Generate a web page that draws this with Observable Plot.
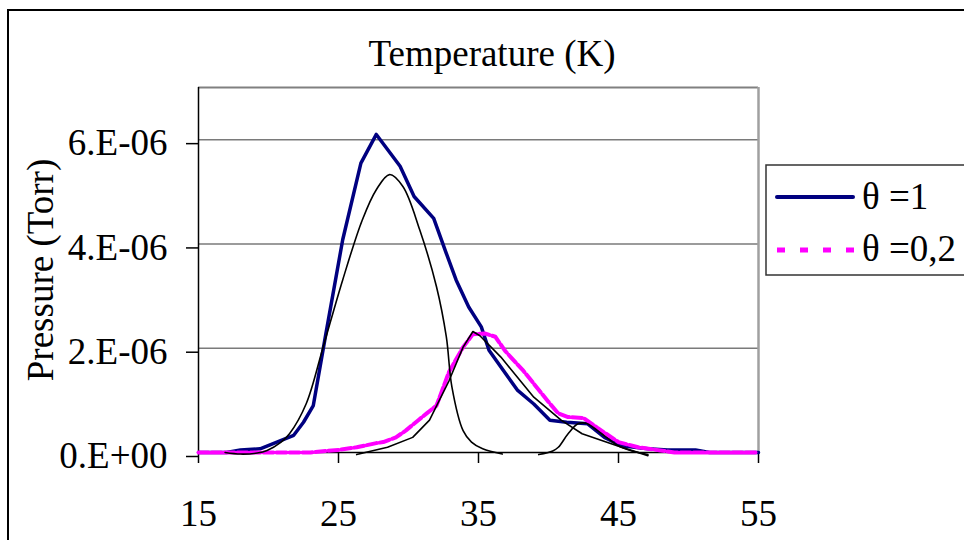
<!DOCTYPE html>
<html>
<head>
<meta charset="utf-8">
<script src="https://cdn.jsdelivr.net/npm/d3@7"></script>
<script src="https://cdn.jsdelivr.net/npm/@observablehq/plot@0.6"></script>
<style>
  html, body { margin: 0; padding: 0; background: #fff; overflow: hidden; }
  #chart svg { display: block; }
</style>
</head>
<body>
<div id="chart"></div>
<script>
// ---- Data ----
const xTicks = [15, 25, 35, 45, 55];
const yTicks = [0, 2e-6, 4e-6, 6e-6];
const yTickLabels = ["0.E+00", "2.E-06", "4.E-06", "6.E-06"];

const titleText = "Temperature (K)";
const yTitle = "Pressure (Torr)";
const seriesNames = ["\u03b8 =1", "\u03b8 =0,2"];

// theta = 1 (values in 1e-6 Torr)
const blueT = [15, 17, 18, 19.4, 20.6, 21.8, 22.5, 23.2, 24.1, 25.3, 26.6, 27.7, 29.4, 30.4, 31.8, 32.7, 33.4, 34.3, 35.2, 35.75, 36.6, 37.8, 38.95, 40.1, 41.3, 42.8, 44.0, 45.2, 47.1, 48.5, 50.5, 51.5, 55];
const blueP = [0, 0, 0.05, 0.07, 0.2, 0.33, 0.58, 0.9, 2.28, 4.08, 5.55, 6.1, 5.49, 4.91, 4.49, 3.82, 3.31, 2.79, 2.41, 1.96, 1.64, 1.19, 0.93, 0.62, 0.58, 0.55, 0.29, 0.13, 0.07, 0.05, 0.05, 0, 0];

// theta = 0,2
const magT = [15, 23, 25, 26.3, 27.7, 28.2, 29.1, 29.8, 30.7, 31.3, 32.0, 32.9, 33.9, 34.6, 35.5, 36.2, 36.9, 37.3, 38.2, 38.95, 40.0, 40.7, 41.4, 42.5, 43.5, 45.0, 46.4, 48.0, 49, 55];
const magP = [0, 0, 0.05, 0.1, 0.18, 0.2, 0.29, 0.42, 0.62, 0.75, 0.9, 1.55, 2.02, 2.27, 2.28, 2.22, 1.95, 1.83, 1.57, 1.32, 0.97, 0.75, 0.68, 0.66, 0.47, 0.2, 0.1, 0.04, 0, 0];

// fitted peaks (black)
const aT = [16.9, 18, 19.2, 19.9, 20.9, 21.5, 22.7, 23.9, 25.3, 26.7, 27.7, 28.65, 29.6, 30.8, 32.0, 32.7, 33.1, 33.9, 34.5, 35.3, 36.7];
const aP = [0, -0.03, -0.01, 0.04, 0.2, 0.36, 0.94, 2.02, 3.31, 4.46, 5.04, 5.33, 5.1, 4.27, 3.18, 2.22, 1.26, 0.42, 0.2, 0.07, -0.03];
const bT = [26.3, 28.5, 30.3, 31.5, 32.9, 33.9, 34.6, 35.1, 36.6, 38.95, 40.9, 42.4, 44.9, 47.1];
const bP = [-0.04, 0.1, 0.29, 0.62, 1.38, 2.02, 2.32, 2.24, 1.83, 1.06, 0.62, 0.36, 0.13, -0.06];
const cT = [39.3, 40.3, 40.7, 41.4, 42.1, 42.7, 43.2, 43.8, 45.2, 47.1];
const cP = [-0.04, 0.03, 0.1, 0.36, 0.55, 0.56, 0.48, 0.36, 0.1, -0.04];

const rows = (T, P) => T.map((t, i) => ({T: t, P: P[i] * 1e-6}));
const blue = rows(blueT, blueP);
const mag = rows(magT, magP);
const fitA = rows(aT, aP);
const fitB = rows(bT, bP);
const fitC = rows(cT, cP);

const FONT = "Liberation Serif, Times New Roman, serif";
const FS = 37;

const chart = Plot.plot({
  width: 964,
  height: 540,
  marginLeft: 198,
  marginRight: 206,
  marginTop: 87,
  marginBottom: 88,
  style: {fontFamily: FONT, fontSize: FS + "px", color: "#000", background: "#fff", overflow: "visible"},
  x: {domain: [15, 55]},
  y: {domain: [0, 7e-6]},
  marks: [
    Plot.ruleY(yTicks.slice(1), {stroke: "#7a7a7a", strokeWidth: 1.5}),
    Plot.ruleY([7e-6], {stroke: "#808080", strokeWidth: 2}),
    Plot.ruleX([55], {stroke: "#a0a0a0", strokeWidth: 2.5}),
    Plot.axisX({ticks: xTicks, tickSize: 11, tickPadding: 36, label: null, strokeWidth: 1.5, fontSize: FS, tickFormat: d => String(d)}),
    Plot.axisY({ticks: yTicks, tickSize: 12, tickPadding: 19, label: null, strokeWidth: 1.5, fontSize: FS, dy: 4,
      tickFormat: d => yTickLabels[yTicks.indexOf(d)]}),
    Plot.ruleY([0], {stroke: "#000", strokeWidth: 1.5}),
    Plot.ruleX([15], {stroke: "#000", strokeWidth: 1.5}),
    Plot.line(blue, {x: "T", y: "P", stroke: "#000080", strokeWidth: 3.5}),
    Plot.line(mag, {x: "T", y: "P", stroke: "#ff00ff", strokeWidth: 4, strokeDasharray: "10,3"}),
    Plot.line(fitA, {x: "T", y: "P", stroke: "#000", strokeWidth: 1.6, curve: "catmull-rom"}),
    Plot.line(fitB, {x: "T", y: "P", stroke: "#000", strokeWidth: 1.6}),
    Plot.line(fitC, {x: "T", y: "P", stroke: "#000", strokeWidth: 1.6, curve: "catmull-rom"}),
    Plot.text([yTitle], {frameAnchor: "left", textAnchor: "middle", rotate: -90, dx: -157, fontSize: FS, fill: "#000"})
  ]
});

document.getElementById("chart").appendChild(chart);

const svg = d3.select(chart);
// outer chart border
svg.append("rect").attr("x", 8).attr("y", 10).attr("width", 1000).attr("height", 600)
  .attr("fill", "none").attr("stroke", "#000").attr("stroke-width", 2);
// title
svg.append("text").attr("x", 492).attr("y", 66).attr("text-anchor", "middle")
  .attr("font-family", FONT).attr("font-size", FS).attr("fill", "#000").text(titleText);
// legend
const lg = svg.append("g");
lg.append("rect").attr("x", 766).attr("y", 165).attr("width", 240).attr("height", 110)
  .attr("fill", "#fff").attr("stroke", "#333").attr("stroke-width", 1.5);
lg.append("line").attr("x1", 777).attr("x2", 853).attr("y1", 197).attr("y2", 197)
  .attr("stroke", "#000080").attr("stroke-width", 4).attr("stroke-linecap", "round");
lg.append("line").attr("x1", 777).attr("x2", 856).attr("y1", 250).attr("y2", 250)
  .attr("stroke", "#ff00ff").attr("stroke-width", 5).attr("stroke-dasharray", "8,15");
lg.append("text").attr("x", 862).attr("y", 209).attr("text-anchor", "start").attr("font-family", FONT).attr("font-size", FS)
  .attr("fill", "#000").text(seriesNames[0]);
lg.append("text").attr("x", 862).attr("y", 261).attr("text-anchor", "start").attr("font-family", FONT).attr("font-size", FS)
  .attr("fill", "#000").text(seriesNames[1]);
</script>
</body>
</html>
